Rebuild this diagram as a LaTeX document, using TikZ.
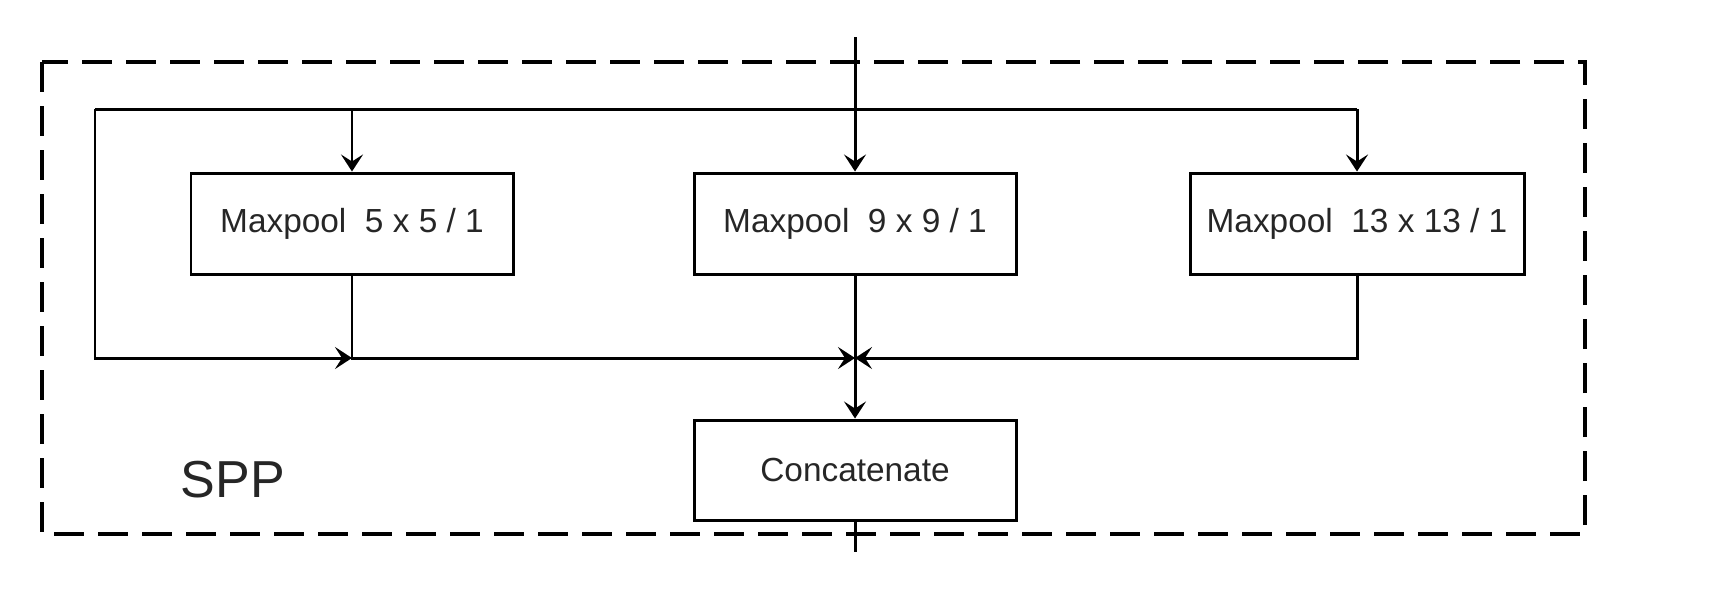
\documentclass[tikz,border=0pt]{standalone}
\usepackage{fontspec}
\setmainfont{Liberation Sans}
\usetikzlibrary{arrows.meta}

\begin{document}
\begin{tikzpicture}[line width=0.85pt,
		pool/.style={draw, rectangle, minimum height=1.01cm, inner sep=0pt, text=black!85, font=\fontsize{9.5}{12}\selectfont},
		>={Stealth[length=0.17cm, width=0.22cm, inset=0.07cm]}]
				\useasboundingbox (0,0) rectangle (17.29,-5.97);
				\draw[dashed, line width=1.1pt, dash pattern=on 0.30cm off 0.14cm] (0.42,-0.62) rectangle (15.85,-5.34);
				\node[text=black!85, font=\fontsize{14.8}{18}\selectfont] (spp)at(2.33,-4.80) {SPP};
				\node[pool, minimum width=3.22cm] (P5)at(3.52,-2.235) {Maxpool\ \ 5 x 5 / 1};
				\node[pool, minimum width=3.22cm] (P9)at(8.55,-2.235) {Maxpool\ \ 9 x 9 / 1};
				\node[pool, minimum width=3.34cm] (P13)at(13.57,-2.235) {Maxpool\ \ 13 x 13 / 1};
				\node[pool, minimum width=3.22cm, minimum height=1.00cm] (cat)at(8.55,-4.70) {Concatenate};
				\coordinate (in)at(8.55,-0.37);
				\coordinate (out)at(8.55,-5.52);
				\coordinate (TL)at(0.95,-1.09);
				\coordinate (TR)at(13.57,-1.09);
				\coordinate (BC)at(8.55,-3.58);
				\draw[->] (in) -- (P9);
				\draw (TL) -- (TR);
				\draw[->] (P5.north |- TL) -- (P5);
				\draw[->] (TR) -- (P13);
				\draw[->] (TL) |- (P5.south |- BC);
				\draw[->] (P5) |- (BC);
				\draw[->] (P13) |- (BC);
				\draw[->] (P9) -- (cat);
				\draw (cat) -- (out);
			\end{tikzpicture}
\end{document}
